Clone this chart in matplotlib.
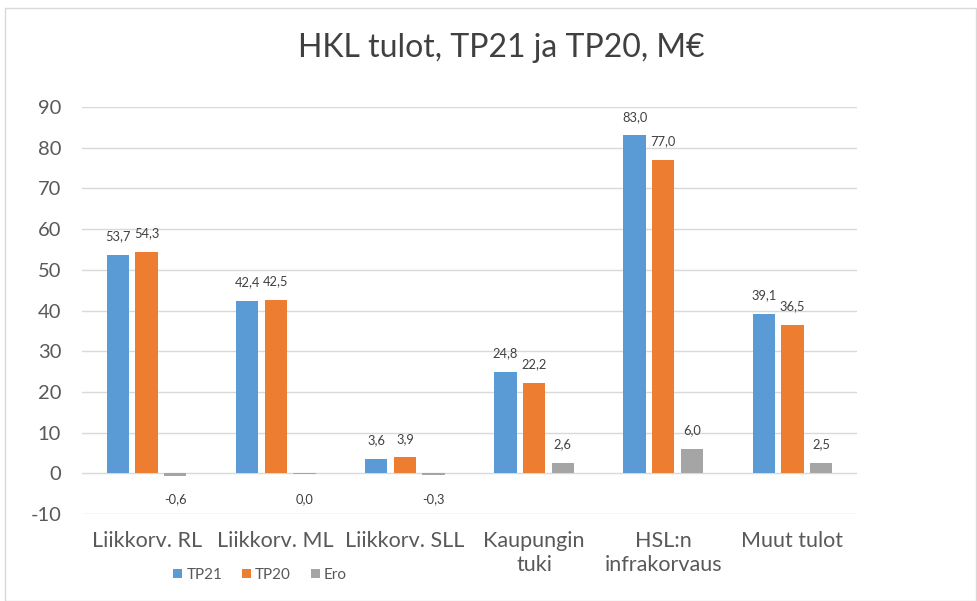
import matplotlib
matplotlib.use("Agg")
import matplotlib.pyplot as plt
import numpy as np
from matplotlib.patches import Rectangle

categories = ["Liikkorv. RL", "Liikkorv. ML", "Liikkorv. SLL", "Kaupungin\ntuki", "HSL:n\ninfrakorvaus", "Muut tulot"]
tp21 = [53.7, 42.4, 3.6, 24.8, 83.0, 39.1]
tp20 = [54.3, 42.5, 3.9, 22.2, 77.0, 36.5]
ero = [-0.6, -0.1, -0.3, 2.6, 6.0, 2.5]
ero_labels = ["-0,6", "0,0", "-0,3", "2,6", "6,0", "2,5"]
series_names = ["TP21", "TP20", "Ero"]
colors = ["#5B9BD5", "#ED7D31", "#A5A5A5"]
yticks = [-10, 0, 10, 20, 30, 40, 50, 60, 70, 80, 90]

plt.rcParams['font.family'] = ['Lato', 'DejaVu Sans']
plt.rcParams['axes.unicode_minus'] = False
text_color = "#595959"

fig = plt.figure(figsize=(9.78, 6.01), dpi=100)
ax = fig.add_axes([82/978, 1-514/601, (857-82)/978, (514-107)/601])

x = np.arange(len(categories))
w = 0.174
step = 0.222
for i, (vals, name, c) in enumerate(zip([tp21, tp20, ero], series_names, colors)):
    pos = x + (i - 1) * step
    ax.bar(pos, vals, width=w, color=c, label=name, zorder=3)
    for j, (p, v) in enumerate(zip(pos, vals)):
        lab = ero_labels[j] if i == 2 else f"{v:.1f}".replace(".", ",")
        if v >= 0.5:
            ax.annotate(lab, (p, v), xytext=(0, 13.5), textcoords="offset points",
                        ha="center", va="center", fontsize=9.3, color="#404040")
        else:
            ax.text(p, -6.4, lab, ha="center", va="center", fontsize=9.3, color="#404040")

ax.set_xlim(-0.5, len(categories) - 0.5)
ax.set_ylim(-10, 90)
ax.set_yticks(yticks)
ax.set_xticks(x)
ax.set_xticklabels(categories, fontsize=15.5, color=text_color, linespacing=1.3)
ax.tick_params(axis="y", labelsize=14.5, labelcolor=text_color, length=0, pad=15)
ax.tick_params(axis="x", length=0, pad=12)
ax.grid(axis="y", color="#D9D9D9", linewidth=1, zorder=0)
for s in ax.spines.values():
    s.set_visible(False)

fig.text(0.513, 1-48/601, "HKL tulot, TP21 ja TP20, M€", ha="center", va="center",
         fontsize=23, color="#404040")

leg = fig.legend(loc="center", bbox_to_anchor=(260/978, 1-575/601), ncol=3, frameon=False,
                 fontsize=11, handlelength=0.6, handleheight=0.6, handletextpad=0.25,
                 columnspacing=1.3)
for t in leg.get_texts():
    t.set_color(text_color)

fig.patches.append(Rectangle((5/978, 0), 971/978, 1-8/601, transform=fig.transFigure,
                             fill=False, edgecolor="#D9D9D9", linewidth=1))

fig.savefig("out.png", dpi=100, facecolor="white")
